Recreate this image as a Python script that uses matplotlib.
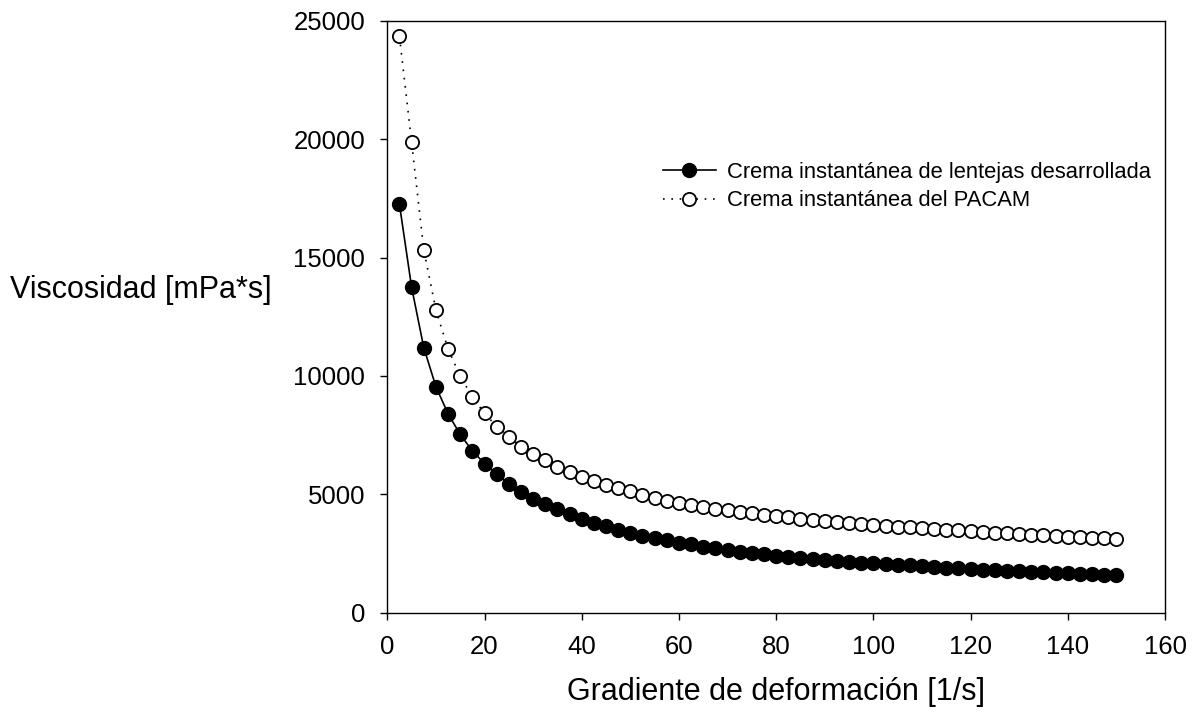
import matplotlib.pyplot as plt

plt.rcParams["font.family"] = ["Liberation Sans", "DejaVu Sans"]

# shear rate [1/s]
gradiente = [2.5, 5.0, 7.5, 10.0, 12.5, 15.0, 17.5, 20.0, 22.5, 25.0,
             27.5, 30.0, 32.5, 35.0, 37.5, 40.0, 42.5, 45.0, 47.5, 50.0,
             52.5, 55.0, 57.5, 60.0, 62.5, 65.0, 67.5, 70.0, 72.5, 75.0,
             77.5, 80.0, 82.5, 85.0, 87.5, 90.0, 92.5, 95.0, 97.5, 100.0,
             102.5, 105.0, 107.5, 110.0, 112.5, 115.0, 117.5, 120.0, 122.5, 125.0,
             127.5, 130.0, 132.5, 135.0, 137.5, 140.0, 142.5, 145.0, 147.5, 150.0]

# viscosity [mPa*s]
visc_lentejas = [17250, 13750, 11200, 9550, 8400, 7530, 6830, 6300, 5850, 5440,
                 5110, 4800, 4570, 4360, 4150, 3960, 3800, 3640, 3500, 3360,
                 3250, 3140, 3050, 2960, 2880, 2790, 2720, 2650, 2580, 2520,
                 2460, 2400, 2360, 2310, 2260, 2220, 2180, 2140, 2110, 2080,
                 2050, 2020, 1990, 1960, 1930, 1900, 1870, 1850, 1820, 1800,
                 1770, 1750, 1730, 1710, 1690, 1660, 1640, 1620, 1600, 1580]

visc_pacam = [24350, 19880, 15340, 12790, 11140, 9990, 9120, 8420, 7860, 7430,
              7010, 6700, 6440, 6170, 5950, 5730, 5560, 5390, 5250, 5120,
              4970, 4840, 4730, 4640, 4550, 4470, 4390, 4330, 4260, 4200,
              4140, 4080, 4030, 3970, 3930, 3890, 3840, 3800, 3760, 3720,
              3670, 3630, 3600, 3560, 3530, 3500, 3470, 3440, 3410, 3380,
              3350, 3320, 3290, 3260, 3240, 3210, 3190, 3170, 3150, 3130]

etiquetas = ["Crema instantánea de lentejas desarrollada",
             "Crema instantánea del PACAM"]

fig = plt.figure(figsize=(11.95, 7.19), dpi=100)
ax = fig.add_axes([0.3241, 0.148, 0.6508, 0.8228])

ax.plot(gradiente, visc_lentejas, color="black", linestyle="-", linewidth=1.2,
        marker="o", markersize=10, markerfacecolor="black",
        markeredgecolor="black", label=etiquetas[0])
ax.plot(gradiente, visc_pacam, color="black", linestyle=(0, (1, 4)), linewidth=1.2,
        marker="o", markersize=9.5, markerfacecolor="white",
        markeredgecolor="black", markeredgewidth=1.3, label=etiquetas[1])

ax.set_xlim(0, 160)
ax.set_ylim(0, 25000)
ax.set_xticks(range(0, 161, 20))
ax.set_yticks(range(0, 25001, 5000))

for s in ax.spines.values():
    s.set_linewidth(1.0)
ax.tick_params(direction="out", length=5, width=1.0, labelsize=18.5, pad=11,
               top=False, right=False)

ax.set_xlabel("Gradiente de deformación [1/s]", fontsize=22, labelpad=13)
fig.text(10 / 1195, 1 - 290 / 719, "Viscosidad [mPa*s]", fontsize=22,
         ha="left", va="center")

ax.legend(loc="upper left", bbox_to_anchor=(0.3545, 0.762), frameon=False,
          fontsize=15.8, handlelength=2.4, handletextpad=0.5,
          labelspacing=0.35, borderpad=0, borderaxespad=0)

fig.savefig("out.png", dpi=100)
